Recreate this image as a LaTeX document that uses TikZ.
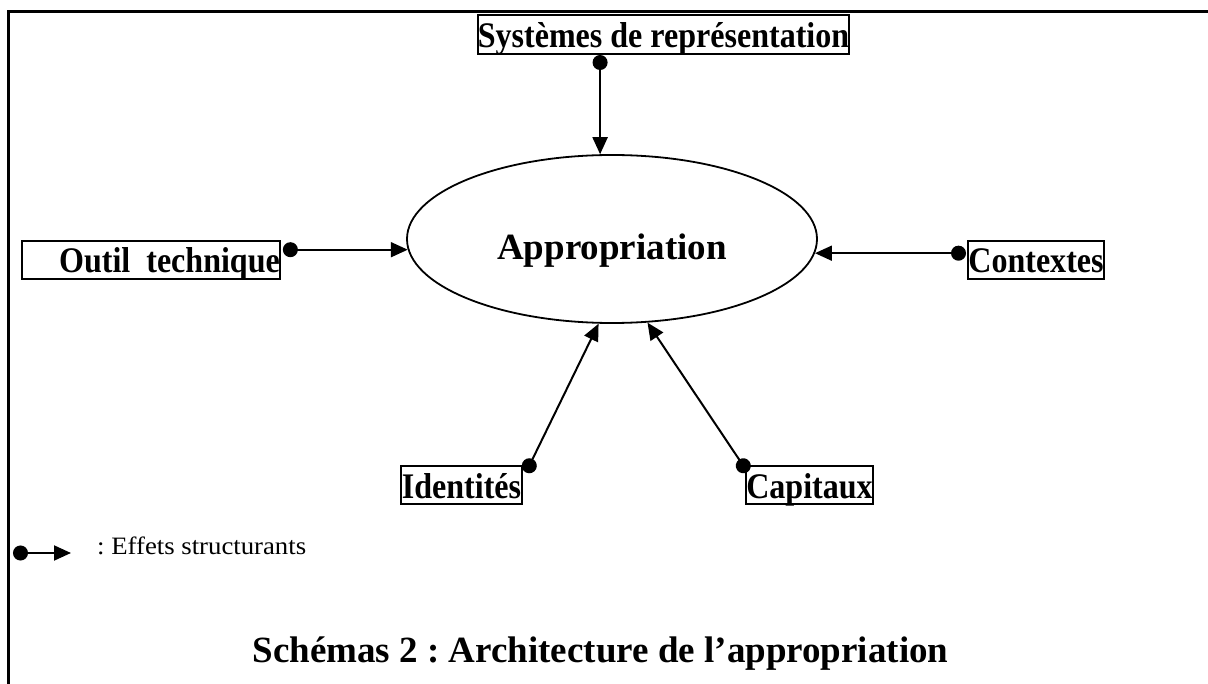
\documentclass[tikz,border=0pt]{standalone}
\usepackage{fontspec}
\setmainfont{Liberation Serif}
\usepackage{graphicx}
\usetikzlibrary{arrows.meta,shapes.geometric}
\frenchspacing
\newcommand{\boxfont}{\fontsize{36}{38}\selectfont\bfseries}
\newcommand{\cnd}[1]{\scalebox{0.89}[1]{#1}}
\begin{document}
\begin{tikzpicture}[x=1pt,y=-1pt,
  lbox/.style={draw, line width=2pt, inner sep=0pt, font=\boxfont,
    text height=32pt, text depth=6pt, minimum height=38pt},
  eff/.style={line width=2pt, {Circle[length=15pt]}-{Triangle[length=17pt,width=15pt]}},
  frame/.style={line width=3pt},
]
\useasboundingbox (0,0) rectangle (1208,684);
\draw[frame] (8.7,684) -- (8.7,12) -- (1208,12);

\node[draw, ellipse, line width=1.8pt, minimum width=410pt, minimum height=168pt,
  inner sep=0pt, font=\fontsize{37}{40}\selectfont\bfseries,
  text height=42pt, text depth=0pt] (app) at (612,239) {Appropriation};

\node[lbox, minimum width=371pt, text height=33pt] (sys) at (663.5,34.5) {\cnd{Systèmes de représentation}};
\node[lbox, minimum width=254pt] (outil) at (151,260) {\hspace*{37pt}\cnd{Outil\ \ technique}};
\node[lbox, minimum width=136pt] (ctx) at (1036,260) {\cnd{Contextes}};
\node[lbox, minimum width=121pt] (ident) at (461.5,485) {\cnd{Identités}};
\node[lbox, minimum width=127pt] (capx) at (809.5,485) {\cnd{Capitaux}};

\coordinate (ttip) at (app.98);
\coordinate (ltip) at (app.183.7);
\coordinate (rtip) at (app.356.3);

\draw[eff] (ttip |- sys.south) -- (ttip);
\draw[eff, shorten <=2pt] (ltip -| outil.east) -- (ltip);
\draw[eff, shorten <=1pt] (rtip -| ctx.west) -- (rtip);
\draw[eff] ([xshift=3pt,yshift=-7.5pt]ident.north east) -- (app.261.2);
\draw[eff] ([xshift=2.5pt,yshift=-7pt]capx.north west) -- (app.293.8);

\coordinate (lgA) at (13,553);
\coordinate (lgB) at (71,553);
\draw[eff] (lgA) -- (lgB);
\node[anchor=base west, inner sep=0pt, font=\fontsize{25}{28}\selectfont] (lgtext) at (97,554)
  {\scalebox{1.07}[1]{: Effets structurants}};

\node[anchor=base, inner sep=0pt, font=\fontsize{37}{40}\selectfont\bfseries] (caption) at (600.5,662)
  {Schémas 2 : Architecture de l’appropriation};
\end{tikzpicture}
\end{document}
